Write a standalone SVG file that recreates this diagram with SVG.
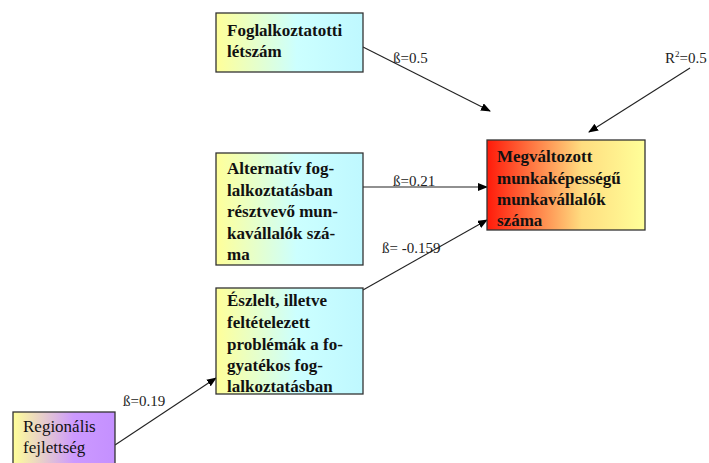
<svg xmlns="http://www.w3.org/2000/svg" width="709" height="463" viewBox="0 0 709 463">
<defs>
<linearGradient id="gYC" x1="0" y1="0" x2="1" y2="0"><stop offset="0" stop-color="#ffff99"/><stop offset="0.55" stop-color="#ccffff"/><stop offset="1" stop-color="#bff8ff"/></linearGradient>
<linearGradient id="gRY" x1="0" y1="0" x2="1" y2="0"><stop offset="0" stop-color="#ff1a0a"/><stop offset="0.6" stop-color="#ffdd80"/><stop offset="1" stop-color="#ffff99"/></linearGradient>
<linearGradient id="gYP" x1="0" y1="0" x2="1" y2="0"><stop offset="0" stop-color="#ffff99"/><stop offset="0.6" stop-color="#cc99ff"/><stop offset="1" stop-color="#c490ff"/></linearGradient>
<marker id="ah" markerWidth="10" markerHeight="8" refX="9" refY="4" orient="auto" markerUnits="userSpaceOnUse"><path d="M0,0 L10,4 L0,8 Z" fill="#000"/></marker>
</defs>
<style>
.box{stroke:#333;stroke-width:1.3}
.bt{font-size:17px;font-weight:bold;fill:#111}
.rt{font-size:17px;fill:#111}
.lbl{font-size:15px;fill:#222}
.c{stroke:#222;stroke-width:1.1;fill:none}
</style>
<rect width="709" height="463" fill="#fff"/>
<g id="connectors" font-family="Liberation Serif, Times New Roman, serif">
<line class="c" x1="363" y1="47" x2="490" y2="111" marker-end="url(#ah)"/>
<line class="c" x1="690" y1="68" x2="589" y2="132" marker-end="url(#ah)"/>
<line class="c" x1="363" y1="187" x2="487" y2="187" marker-end="url(#ah)"/>
<line class="c" x1="363" y1="290" x2="487" y2="220" marker-end="url(#ah)"/>
<line class="c" x1="115" y1="445" x2="216" y2="378" marker-end="url(#ah)"/>
<text class="lbl" x="393" y="63">ß=0.5</text>
<text class="lbl" x="665" y="63">R<tspan font-size="9" dy="-6">2</tspan><tspan dy="6">=0.5</tspan></text>
<text class="lbl" x="393" y="186">ß=0.21</text>
<text class="lbl" x="382" y="253">ß= -0.159</text>
<text class="lbl" x="123" y="406">ß=0.19</text>
</g>
<g id="n1" font-family="Liberation Serif, Times New Roman, serif">
<rect class="box" x="216" y="13" width="147" height="59" fill="url(#gYC)"/>
<text class="bt" x="227" y="36">Foglalkoztatotti</text>
<text class="bt" x="227" y="57">létszám</text>
</g>
<g id="n2" font-family="Liberation Serif, Times New Roman, serif">
<rect class="box" x="216" y="153" width="147" height="112" fill="url(#gYC)"/>
<text class="bt" x="227" y="174">Alternatív fog-</text>
<text class="bt" x="227" y="196">lalkoztatásban</text>
<text class="bt" x="227" y="217">résztvevő mun-</text>
<text class="bt" x="227" y="239">kavállalók szá-</text>
<text class="bt" x="227" y="260">ma</text>
</g>
<g id="n3" font-family="Liberation Serif, Times New Roman, serif">
<rect class="box" x="216" y="288" width="147" height="106" fill="url(#gYC)"/>
<text class="bt" x="227" y="306">Észlelt, illetve</text>
<text class="bt" x="227" y="328">feltételezett</text>
<text class="bt" x="227" y="350">problémák a fo-</text>
<text class="bt" x="227" y="371">gyatékos fog-</text>
<text class="bt" x="227" y="392">lalkoztatásban</text>
</g>
<g id="n4" font-family="Liberation Serif, Times New Roman, serif">
<rect class="box" x="487" y="140" width="158" height="90" fill="url(#gRY)"/>
<text class="bt" x="497" y="162">Megváltozott</text>
<text class="bt" x="497" y="184">munkaképességű</text>
<text class="bt" x="497" y="205">munkavállalók</text>
<text class="bt" x="497" y="226">száma</text>
</g>
<g id="n5" font-family="Liberation Serif, Times New Roman, serif">
<rect class="box" x="13" y="412" width="102" height="60" fill="url(#gYP)"/>
<text class="rt" x="23" y="432">Regionális</text>
<text class="rt" x="23" y="453">fejlettség</text>
</g>
</svg>
